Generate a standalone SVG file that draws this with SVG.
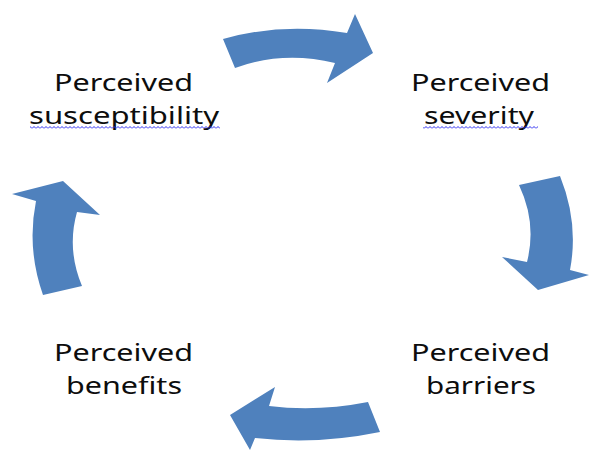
<svg xmlns="http://www.w3.org/2000/svg" width="589" height="451" viewBox="0 0 589 451">
  <style>
    .arrow { fill: #4f81bd; }
    .label { font-family: "Noto Sans", "Open Sans", sans-serif; font-size: 24px; fill: #0d0d0d; }
  </style>
  <defs>
    <!-- spell-check squiggle -->
    <pattern id="squiggle" x="0" y="0" width="4" height="3" patternUnits="userSpaceOnUse">
      <path d="M0,2.5 L2,0.5 L4,2.5" fill="none" stroke="#2a2af0" stroke-width="1"/>
    </pattern>
  </defs>
  <rect width="589" height="451" fill="#fff"/>

  <g id="connectors">
    <path class="arrow" d="M223,39 Q283,22 347,33 L355,14 L373,53 L327,83 L335,63 Q283,50.5 235,68 Z"/>
    <path class="arrow" d="M519,185 L560,176 Q579,223 570,270 L589,275 L538,290 L502,257 L527,262 Q537,223 519,185 Z"/>
    <path class="arrow" d="M368,402 L380,432 Q317,445 255,438 L250,450 L230,415 L275,387 L269,406 Q317,412 368,402 Z"/>
    <path class="arrow" d="M43,295 L82,286 Q66.5,249 77,212 L100,215 L63,181 L12,194 L36,201 Q26.5,248 43,295 Z"/>
  </g>

  <g id="susceptibility">
    <text class="label" x="54" y="91" textLength="139" lengthAdjust="spacingAndGlyphs">Perceived</text>
    <text class="label" x="29" y="124" textLength="190" lengthAdjust="spacingAndGlyphs">susceptibility</text>
    <rect x="30" y="126" width="190" height="3" fill="url(#squiggle)"/>
  </g>

  <g id="severity">
    <text class="label" x="411" y="91" textLength="139" lengthAdjust="spacingAndGlyphs">Perceived</text>
    <text class="label" x="424" y="124" textLength="110" lengthAdjust="spacingAndGlyphs">severity</text>
    <rect x="423" y="126" width="115" height="3" fill="url(#squiggle)"/>
  </g>

  <g id="barriers">
    <text class="label" x="411" y="361" textLength="139" lengthAdjust="spacingAndGlyphs">Perceived</text>
    <text class="label" x="426" y="394" textLength="110" lengthAdjust="spacingAndGlyphs">barriers</text>
  </g>

  <g id="benefits">
    <text class="label" x="54" y="361" textLength="139" lengthAdjust="spacingAndGlyphs">Perceived</text>
    <text class="label" x="66" y="394" textLength="116" lengthAdjust="spacingAndGlyphs">benefits</text>
  </g>
</svg>
